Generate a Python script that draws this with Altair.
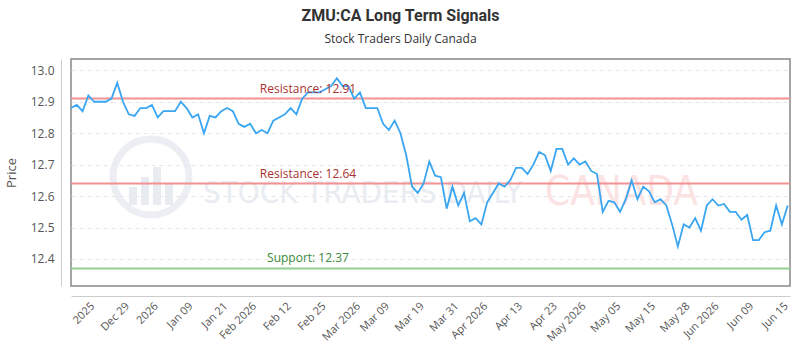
import json
import altair as alt
import pandas as pd

prices = [
    12.88, 12.89, 12.87, 12.92, 12.90, 12.90, 12.90, 12.91, 12.96, 12.90,
    12.86, 12.855, 12.88, 12.88, 12.89, 12.85, 12.87, 12.87, 12.87, 12.90,
    12.88, 12.85, 12.86, 12.80, 12.855, 12.85, 12.87, 12.88, 12.87, 12.83,
    12.82, 12.83, 12.80, 12.81, 12.80, 12.84, 12.85, 12.86, 12.88, 12.86,
    12.91, 12.93, 12.93, 12.93, 12.94, 12.95, 12.975, 12.95, 12.95, 12.91,
    12.93, 12.88, 12.88, 12.88, 12.83, 12.81, 12.84, 12.80, 12.73, 12.63,
    12.61, 12.64, 12.71, 12.665, 12.66, 12.56, 12.63, 12.57, 12.61, 12.52,
    12.53, 12.51, 12.58, 12.61, 12.64, 12.63, 12.65, 12.69, 12.69, 12.67,
    12.70, 12.74, 12.73, 12.68, 12.75, 12.75, 12.70, 12.72, 12.70, 12.71,
    12.68, 12.67, 12.55, 12.585, 12.58, 12.55, 12.59, 12.65, 12.59, 12.63,
    12.615, 12.58, 12.59, 12.57, 12.51, 12.44, 12.51, 12.50, 12.53, 12.49,
    12.57, 12.59, 12.57, 12.575, 12.55, 12.55, 12.525, 12.54, 12.46, 12.46,
    12.485, 12.49, 12.57, 12.51, 12.57,
]

tick_labels = ["2025", "Dec 29", "2026", "Jan 09", "Jan 21", "Feb 2026", "Feb 12",
               "Feb 25", "Mar 2026", "Mar 09", "Mar 19", "Mar 31", "Apr 2026",
               "Apr 13", "Apr 23", "May 2026", "May 05", "May 15", "May 28",
               "Jun 2026", "Jun 09", "Jun 15"]
tick_index = [3, 9, 14, 20, 26, 31, 37, 43, 49, 54, 60, 66, 71, 77, 83, 88, 94,
              100, 106, 111, 117, 123]

level_values = [12.91, 12.64, 12.37]
level_labels = ["Resistance: 12.91", "Resistance: 12.64", "Support: 12.37"]
level_kinds = ["Resistance", "Resistance", "Support"]

y_ticks = [12.4, 12.5, 12.6, 12.7, 12.8, 12.9, 13.0]

df = pd.DataFrame({"i": list(range(len(prices))), "price": prices})
lv = pd.DataFrame({"value": level_values, "label": level_labels, "kind": level_kinds})

W, H = 719, 227
xs = alt.Scale(domain=[0, 124.4], nice=False, zero=False)
ys = alt.Scale(domain=[12.314, 13.036], nice=False, zero=False)

label_expr = f"{json.dumps(tick_labels)}[indexof({json.dumps(tick_index)}, datum.value)]"

x_axis = alt.Axis(values=tick_index, labelExpr=label_expr, labelAngle=-45,
                  grid=False, ticks=False, offset=10, domainColor="#cccccc",
                  labelColor="#555555", labelFontSize=11, labelFont="Open Sans",
                  labelPadding=4, title=None, labelOverlap=False)
y_axis = alt.Axis(values=y_ticks, format=".1f", grid=True, gridDash=[4, 4],
                  gridColor="#e6e6e6", ticks=False, offset=10, domainColor="#cccccc",
                  labelColor="#555555", labelFontSize=12, labelFont="Open Sans",
                  labelPadding=7, title="Price", titleColor="#555555",
                  titleFontSize=13, titleFont="Open Sans", titleFontWeight="normal",
                  titlePadding=12, labelOverlap=False)

one = pd.DataFrame({"a": [0]})

# watermark (decoration)
wm_ring = alt.Chart(one).mark_point(
    shape="circle", filled=False, size=5776, strokeWidth=7, color="#e4e8ee"
).encode(x=alt.value(80), y=alt.value(118))
wm_bar_layers = []
for bx, btop in [(58, 128), (70, 118), (82, 108), (94, 124)]:
    wm_bar_layers.append(
        alt.Chart(one).mark_rect(color="#e8ebf0").encode(
            x=alt.value(bx), x2=alt.value(bx + 8), y=alt.value(btop), y2=alt.value(146)
        )
    )
wm_text1 = alt.Chart(pd.DataFrame({"t": ["STOCK TRADERS DAILY"]})).mark_text(
    align="left", baseline="alphabetic", fontSize=31,
    font="DejaVu Sans Condensed, DejaVu Sans", color="#e9ecf1"
).encode(text="t:N", x=alt.value(132), y=alt.value(144))
wm_text2 = alt.Chart(pd.DataFrame({"t": ["CANADA"]})).mark_text(
    align="left", baseline="alphabetic", fontSize=40,
    font="DejaVu Sans Condensed, DejaVu Sans", color="#fbe3e3"
).encode(text="t:N", x=alt.value(474), y=alt.value(146))

line = alt.Chart(df).mark_line(color="#3aa6f2", strokeWidth=1.8).encode(
    x=alt.X("i:Q", scale=xs, axis=x_axis),
    y=alt.Y("price:Q", scale=ys, axis=y_axis),
)

color_scale = alt.Scale(domain=["Resistance", "Support"], range=["#f29292", "#92cf92"])
text_scale = alt.Scale(domain=["Resistance", "Support"], range=["#a93232", "#3a8a3a"])

rules = alt.Chart(lv).mark_rule(strokeWidth=2).encode(
    y=alt.Y("value:Q", scale=ys, axis=y_axis),
    color=alt.Color("kind:N", scale=color_scale, legend=None),
)
labels = alt.Chart(lv).mark_text(baseline="bottom", dy=-3, fontSize=12,
                                 font="Open Sans").encode(
    y=alt.Y("value:Q", scale=ys, axis=y_axis),
    x=alt.value(237),
    text="label:N",
    color=alt.Color("kind:N", scale=text_scale, legend=None),
)

chart = alt.layer(
    wm_ring, *wm_bar_layers, wm_text1, wm_text2, rules, line, labels
).resolve_scale(color="independent").properties(
    width=W, height=H,
    autosize=alt.AutoSizeParams(type="none"),
    padding={"left": 71, "top": 59, "right": 10, "bottom": 64},
    title=alt.TitleParams(
        text="ZMU:CA Long Term Signals", subtitle="Stock Traders Daily Canada",
        anchor="middle", dx=-30, fontSize=16, font="Roboto", fontWeight="bold",
        color="#333333", subtitleFontSize=12, subtitleColor="#333333",
        subtitleFont="Open Sans", subtitlePadding=10, offset=14,
    ),
).configure_view(stroke="#888888", strokeWidth=1.5)

chart.save("out.html", embed_options={"renderer": "svg", "actions": False})
